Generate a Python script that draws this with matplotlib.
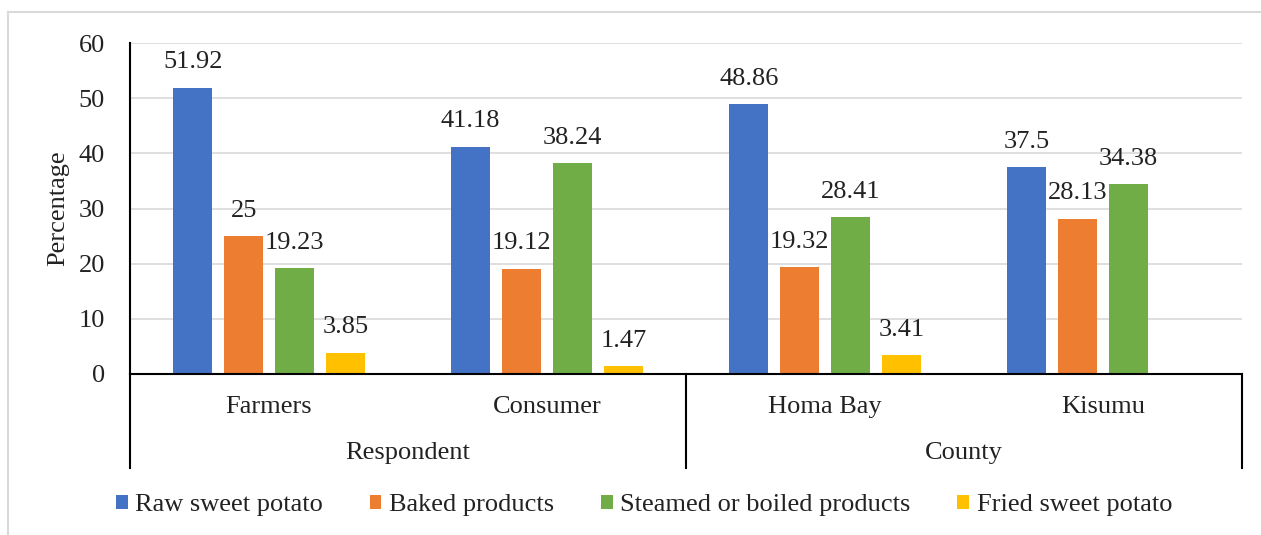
import numpy as np
import matplotlib.pyplot as plt
from matplotlib.lines import Line2D

plt.rcParams['font.family'] = ['Liberation Serif', 'DejaVu Serif']

groups = ['Respondent', 'County']
categories = ['Farmers', 'Consumer', 'Homa Bay', 'Kisumu']
series = ['Raw sweet potato', 'Baked products', 'Steamed or boiled products', 'Fried sweet potato']
raw = [51.92, 41.18, 48.86, 37.5]
baked = [25, 19.12, 19.32, 28.13]
steamed = [19.23, 38.24, 28.41, 34.38]
fried = [3.85, 1.47, 3.41, None]
colors = ['#4472C4', '#ED7D31', '#70AD47', '#FFC000']

FS = 19
W, H = 1261, 535
fig = plt.figure(figsize=(W / 100, H / 100), dpi=100)
ax = fig.add_axes([130 / W, (H - 374) / H, (1242 - 130) / W, (374 - 43) / H])

x = np.arange(len(categories))
bw = 0.14
step = 0.183
for i, (vals, c) in enumerate(zip([raw, baked, steamed, fried], colors)):
    pos = x + (i - 1.5) * step
    keep = [j for j, v in enumerate(vals) if v is not None]
    bars = ax.bar(pos[keep], [vals[j] for j in keep], bw, color=c, label=series[i], zorder=3)
    for b, j in zip(bars, keep):
        ax.text(b.get_x() + b.get_width() / 2, vals[j] + 4.6, f'{vals[j]:g}',
                ha='center', va='center', fontsize=FS, color='#222222')

ax.set_xlim(-0.5, len(categories) - 0.5)
ax.set_ylim(0, 60)
ax.set_yticks(range(0, 61, 10))
ax.tick_params(axis='y', length=0, labelsize=FS, pad=18, colors='#222222')
ax.set_xticks([])
ax.grid(axis='y', color='#D9D9D9', linewidth=1.2, zorder=0)
ax.set_ylabel('Percentage', fontsize=FS, labelpad=7, color='#222222')
for s in ['top', 'right']:
    ax.spines[s].set_visible(False)
for s in ['left', 'bottom']:
    ax.spines[s].set_linewidth(1.5)
    ax.spines[s].set_color('black')
    ax.spines[s].set_zorder(4)

# two-level category axis below the plot
trans = ax.get_xaxis_transform()
depth = -(468 - 374) / (374 - 43)
for xv in [-0.5, 1.5, 3.5]:
    ax.add_line(Line2D([xv, xv], [0, depth], transform=trans, color='black',
                       linewidth=1.5, clip_on=False))
for xi, name in zip(x, categories):
    ax.text(xi, -(407 - 374) / (374 - 43), name, transform=trans, ha='center',
            va='center', fontsize=FS, color='#222222')
for gx, name in zip([0.5, 2.5], groups):
    ax.text(gx, -(453 - 374) / (374 - 43), name, transform=trans, ha='center',
            va='center', fontsize=FS, color='#222222')

leg = fig.legend(loc='center', bbox_to_anchor=(644 / W, (H - 505) / H), ncol=4,
                 frameon=False, fontsize=FS, handlelength=0.45, handleheight=0.45,
                 handletextpad=0.3, columnspacing=1.75)
for t in leg.get_texts():
    t.set_color('#222222')

# light frame around the figure
fig.add_artist(Line2D([8 / W, 1], [1 - 12 / H, 1 - 12 / H], color='#D9D9D9', linewidth=1.5))
fig.add_artist(Line2D([8 / W, 8 / W], [0, 1 - 12 / H], color='#D9D9D9', linewidth=1.5))

fig.savefig('out.png', dpi=100)
